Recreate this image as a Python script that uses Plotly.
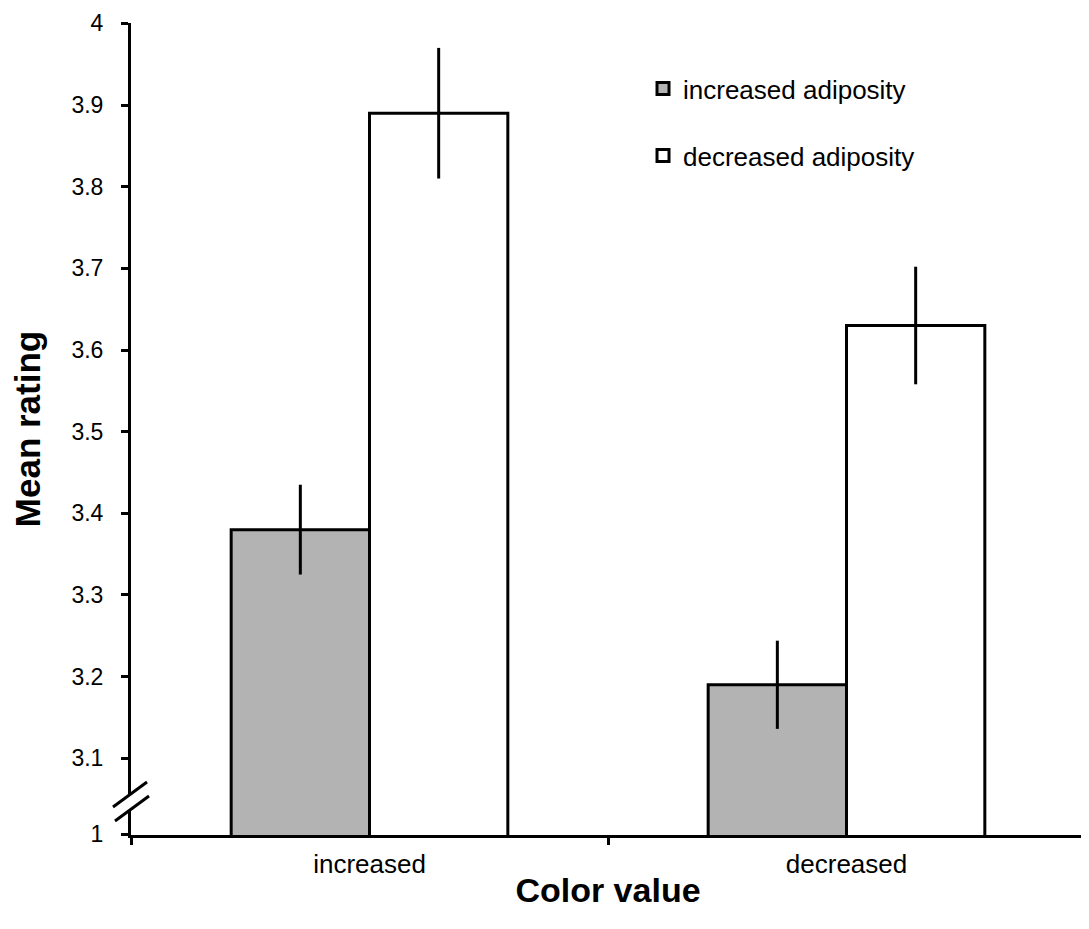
import plotly.graph_objects as go

categories = ["increased", "decreased"]
series_names = ["increased adiposity", "decreased adiposity"]
inc_adiposity = [3.38, 3.19]
inc_err = [0.055, 0.054]
dec_adiposity = [3.89, 3.63]
dec_err = [0.080, 0.072]
ytick_vals = [3.007, 3.1, 3.2, 3.3, 3.4, 3.5, 3.6, 3.7, 3.8, 3.9, 4.0]
ytick_text = ["1", "3.1", "3.2", "3.3", "3.4", "3.5", "3.6", "3.7", "3.8", "3.9", "4"]

FONT = "Liberation Sans, Arial, Helvetica, sans-serif"

# page has an 8px body margin; figure sized to fill the rest of the window
W, H = 1081, 921
L, R, T, B = 123, 4, 15, 94
pw, ph = W - L - R, H - T - B

fig = go.Figure()
fig.add_trace(go.Bar(
    x=categories, y=inc_adiposity, name=series_names[0],
    marker=dict(color="#b3b3b3", line=dict(color="black", width=3)),
    error_y=dict(type="data", array=inc_err, color="black", thickness=3, width=0),
    legendgroup="a",
))
fig.add_trace(go.Bar(
    x=categories, y=dec_adiposity, name=series_names[1],
    marker=dict(color="white", line=dict(color="black", width=3)),
    error_y=dict(type="data", array=dec_err, color="black", thickness=3, width=0),
    legendgroup="b",
))

fig.update_layout(
    width=W, height=H,
    margin=dict(l=L, r=R, t=T, b=B, autoexpand=False),
    paper_bgcolor="white", plot_bgcolor="white",
    barmode="group", bargap=0.42, bargroupgap=0,
    font=dict(family=FONT, color="black", size=24),
    showlegend=True,
    legend=dict(x=0.5367, y=0.948, xanchor="left", yanchor="top",
                font=dict(size=26), tracegroupgap=30,
                bgcolor="rgba(0,0,0,0)"),
    xaxis=dict(
        showline=True, linecolor="black", linewidth=3,
        ticks="outside", tickson="boundaries", ticklen=7, tickwidth=3, tickcolor="black",
        tickfont=dict(size=26), ticklabelstandoff=4,
        title=dict(text="<b>Color value</b>", font=dict(size=34), standoff=0),
        showgrid=False, zeroline=False, automargin=False,
    ),
    yaxis=dict(
        range=[3.006, 4.0005],
        tickvals=ytick_vals, ticktext=ytick_text,
        showline=True, linecolor="black", linewidth=3,
        ticks="outside", ticklen=7, tickwidth=3, tickcolor="black",
        tickfont=dict(size=23), ticklabelstandoff=13, ticklabeloverflow="allow",
        title=dict(text="<b>Mean rating</b>", font=dict(size=35), standoff=22),
        showgrid=False, zeroline=False, automargin=False,
    ),
)

# axis break marks, given in page pixels
def px(x):
    return (x - 8 - L) / pw
def py(y):
    return (H - B - (y - 8)) / ph

fig.add_shape(type="path",
              path=f"M {px(114)} {py(807)} L {px(147)} {py(782)} L {px(149)} {py(796)} L {px(116)} {py(821)} Z",
              xref="paper", yref="paper", fillcolor="white", line=dict(width=0), layer="above")
fig.add_shape(type="line", x0=px(113), y0=py(807), x1=px(147), y1=py(782),
              xref="paper", yref="paper", line=dict(color="black", width=3), layer="above")
fig.add_shape(type="line", x0=px(115), y0=py(821), x1=px(149), y1=py(796),
              xref="paper", yref="paper", line=dict(color="black", width=3), layer="above")

fig.write_html("out.html")
